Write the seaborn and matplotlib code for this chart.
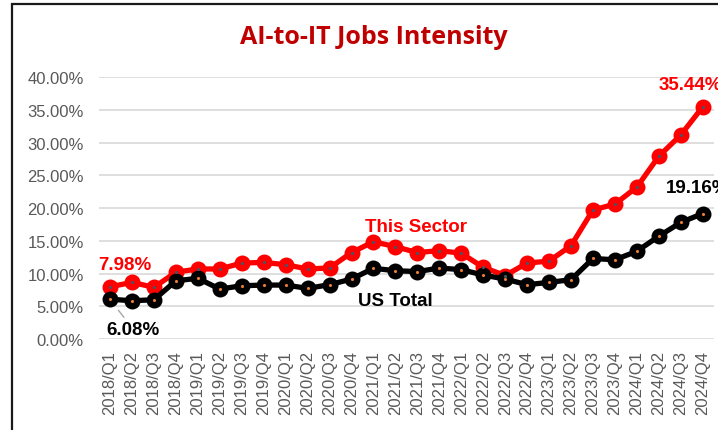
import numpy as np
import pandas as pd
import matplotlib.pyplot as plt
import seaborn as sns
from matplotlib.patches import Rectangle
from matplotlib.ticker import PercentFormatter

quarters = [f"{y}/Q{q}" for y in range(2018, 2025) for q in range(1, 5)]

sector = [7.98, 8.65, 7.90, 10.2, 10.7, 10.7, 11.6, 11.7, 11.35, 10.7, 10.85, 13.2,
          14.86, 14.1, 13.2, 13.5, 13.1, 10.95, 9.7, 11.6, 11.9, 14.25,
          19.7, 20.6, 23.2, 27.9, 31.15, 35.44]
us_total = [6.08, 5.85, 6.0, 8.9, 9.27, 7.63, 8.14, 8.24, 8.24, 7.74, 8.3, 9.16,
            10.8, 10.43, 10.3, 10.84, 10.6, 9.77, 9.16, 8.3, 8.65, 9.06,
            12.3, 12.1, 13.4, 15.7, 17.8, 19.16]

series_names = ["This Sector", "US Total"]
line_colors = {"This Sector": "#FF0000", "US Total": "#000000"}
dot_colors = {"This Sector": "#44546A", "US Total": "#ED7D31"}

df = pd.concat([
    pd.DataFrame({"idx": np.arange(len(quarters)), "value": np.array(sector) / 100, "series": "This Sector"}),
    pd.DataFrame({"idx": np.arange(len(quarters)), "value": np.array(us_total) / 100, "series": "US Total"}),
])

sns.set_theme(style="white")
plt.rcParams["font.family"] = ["Liberation Sans", "DejaVu Sans"]

fig = plt.figure(figsize=(7.18, 4.31), dpi=100)
ax = fig.add_axes([0.138, 0.211, 0.856, 0.608])

# red first so the black line sits on top where they cross
for name in series_names:
    sub = df[df.series == name]
    sns.lineplot(data=sub, x="idx", y="value", color=line_colors[name], lw=3.8,
                 marker="o", markersize=11.5, markeredgewidth=0, ax=ax, legend=False)
    sns.scatterplot(data=sub, x="idx", y="value", color=dot_colors[name], s=5,
                    linewidth=0, ax=ax, legend=False, zorder=5)

ax.set_xlim(-0.5, len(quarters) - 0.5)
ax.set_ylim(0, 0.40)
ax.set_yticks(np.arange(0, 0.41, 0.05))
ax.yaxis.set_major_formatter(PercentFormatter(1.0, decimals=2))
ax.set_xticks(np.arange(len(quarters)))
ax.set_xticklabels(quarters, rotation=90)
ax.tick_params(axis="both", labelsize=12, colors="#595959", length=0, pad=8)
ax.tick_params(axis="y", pad=11)
ax.yaxis.grid(True, color="#D9D9D9", lw=1.2)
ax.set_axisbelow(True)
ax.set_xlabel("")
ax.set_ylabel("")
for s in ax.spines.values():
    s.set_visible(False)

fig.text(0.52, 0.914, "AI-to-IT Jobs Intensity", ha="center", va="center",
         fontsize=18, fontweight="bold", color="#C00000", family=["Open Sans", "DejaVu Sans"])

bold = dict(fontsize=13.5, fontweight="bold", ha="center", va="center")
ax.text(0.68, 0.1145, "7.98%", color="#FF0000", **bold)
ax.annotate("6.08%", xy=(0.03, 0.0590), xytext=(1.05, 0.0153), color="#000000",
            arrowprops=dict(arrowstyle="-", color="#A6A6A6", lw=1, shrinkA=0, shrinkB=9), **bold)
ax.text(13.93, 0.1725, "This Sector", color="#FF0000", **bold)
ax.text(13.02, 0.0595, "US Total", color="#000000", **bold)
ax.text(26.46, 0.388, "35.44%", color="#FF0000", clip_on=False, **bold)
ax.text(26.77, 0.232, "19.16%", color="#000000", clip_on=False, **bold)

fig.patches.append(Rectangle((12 / 718, -0.05), 1.1, 1 - 5 / 431 + 0.05, transform=fig.transFigure,
                             fill=False, edgecolor="#1a1a1a", lw=1.6))

fig.savefig("out.png", dpi=100)
